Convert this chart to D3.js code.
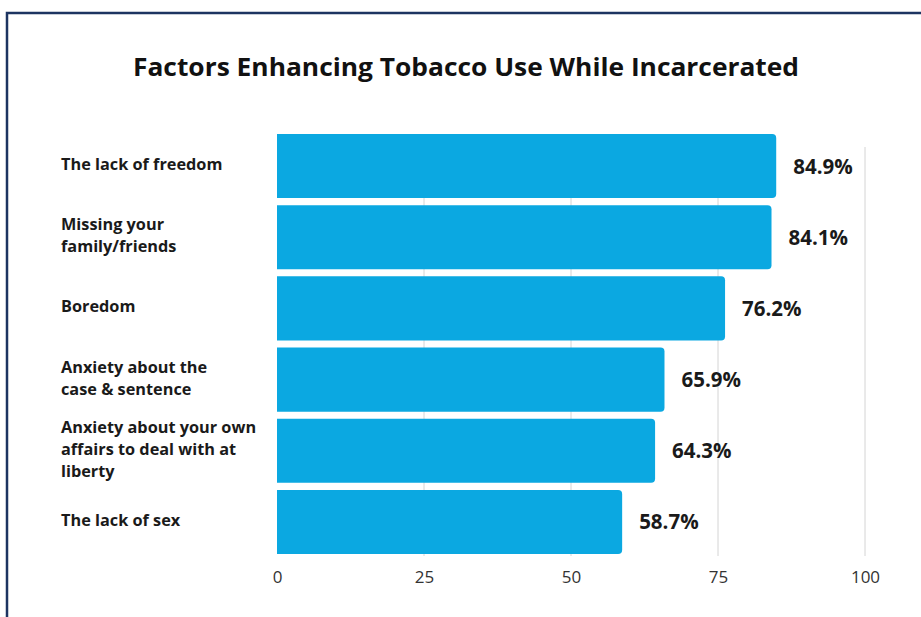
<!DOCTYPE html>
<html>
<head>
<meta charset="utf-8">
<script src="https://cdn.jsdelivr.net/npm/d3@7"></script>
<style>
  html, body { margin: 0; padding: 0; background: #fff; }
  svg { display: block; }
</style>
</head>
<body>
<svg id="chart" width="921" height="617"></svg>
<script>
const categories = [
  ["The lack of freedom"],
  ["Missing your", "family/friends"],
  ["Boredom"],
  ["Anxiety about the", "case & sentence"],
  ["Anxiety about your own", "affairs to deal with at", "liberty"],
  ["The lack of sex"]
];
const values = [84.9, 84.1, 76.2, 65.9, 64.3, 58.7];
const tickValues = [0, 25, 50, 75, 100];
const title = "Factors Enhancing Tobacco Use While Incarcerated";

const svg = d3.select("#chart");
const W = 921, H = 617;

// frame
svg.append("rect")
  .attr("x", 0).attr("y", 0).attr("width", W).attr("height", H)
  .attr("fill", "#fff");
svg.append("rect")
  .attr("x", 7).attr("y", 13).attr("width", W + 10).attr("height", H + 10)
  .attr("fill", "none").attr("stroke", "#1d3461").attr("stroke-width", 2.5);

svg.append("text")
  .attr("x", 466).attr("y", 76)
  .attr("text-anchor", "middle")
  .attr("font-family", "'Open Sans', sans-serif")
  .attr("font-weight", 700)
  .attr("font-size", 25)
  .attr("fill", "#111")
  .attr("textLength", 666)
  .attr("lengthAdjust", "spacingAndGlyphs")
  .text(title);

const x = d3.scaleLinear().domain([0, 100]).range([277, 865]);
const y = d3.scaleBand().domain(d3.range(values.length)).range([134, 554]).paddingInner(0.1).paddingOuter(0);

// gridlines
svg.append("g").selectAll("line")
  .data(tickValues.filter(d => d > 0))
  .join("line")
  .attr("x1", d => x(d)).attr("x2", d => x(d))
  .attr("y1", 147).attr("y2", 556)
  .attr("stroke", "#d4d4d4").attr("stroke-width", 1);

// bars: square at the baseline, rounded at the end
const r = 4;
svg.append("g").selectAll("path")
  .data(values)
  .join("path")
  .attr("fill", "#0ba8e1")
  .attr("d", (d, i) => {
    const x0 = x(0), x1 = x(d), y0 = y(i), h = y.bandwidth();
    return `M${x0},${y0}H${x1 - r}Q${x1},${y0} ${x1},${y0 + r}V${y0 + h - r}Q${x1},${y0 + h} ${x1 - r},${y0 + h}H${x0}Z`;
  });

// value labels
svg.append("g").selectAll("text")
  .data(values)
  .join("text")
  .attr("x", d => x(d) + 17)
  .attr("y", (d, i) => y(i) + y.bandwidth() / 2 + 7.5)
  .attr("font-family", "'Open Sans', sans-serif")
  .attr("font-weight", 700)
  .attr("font-size", 20.5)
  .attr("fill", "#1a1a1a")
  .text(d => d.toFixed(1) + "%");

// category labels
const lineH = 22;
const lab = svg.append("g").selectAll("text")
  .data(categories)
  .join("text")
  .attr("font-family", "'Open Sans', sans-serif")
  .attr("font-weight", 700)
  .attr("font-size", 16.3)
  .attr("fill", "#1a1a1a");
lab.each(function(lines, i) {
  const cy = y(i) + y.bandwidth() / 2;
  const startY = cy - (lines.length - 1) * lineH / 2 + 4;
  d3.select(this).selectAll("tspan")
    .data(lines)
    .join("tspan")
    .attr("x", 61)
    .attr("y", (l, j) => startY + j * lineH)
    .text(l => l);
});

// x axis
const axis = svg.append("g")
  .attr("transform", "translate(0,563)")
  .call(d3.axisBottom(x).tickValues(tickValues).tickSize(0).tickPadding(8));
axis.select(".domain").remove();
axis.selectAll("text")
  .attr("font-family", "'Open Sans', sans-serif")
  .attr("font-size", 17)
  .attr("fill", "#333");
</script>
</body>
</html>
